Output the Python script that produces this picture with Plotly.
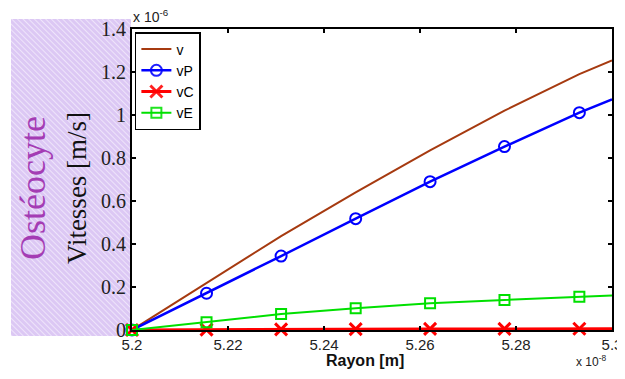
import base64
import plotly.graph_objects as go

# ---- data (velocities in units of 1e-6 m/s, radius in units of 1e-8 m) ----
rayon = [5.2, 5.21553, 5.23106, 5.2466, 5.2621, 5.2776, 5.2932, 5.3]
v  = [0.0, 0.22, 0.437, 0.64, 0.835, 1.02, 1.19, 1.254]
vP = [0.0, 0.171, 0.344, 0.518, 0.690, 0.853, 1.011, 1.073]
vC = [0.0, 0.002, 0.003, 0.004, 0.005, 0.005, 0.006, 0.006]
vE = [0.0, 0.036, 0.074, 0.101, 0.124, 0.140, 0.155, 0.160]
x_ticks = [5.2, 5.22, 5.24, 5.26, 5.28, 5.3]
x_ticklabels = ["5.2", "5.22", "5.24", "5.26", "5.28", "5.3"]
y_ticks = [0, 0.2, 0.4, 0.6, 0.8, 1.0, 1.2, 1.4]
y_ticklabels = ["0", "0.2", "0.4", "0.6", "0.8", "1", "1.2", "1.4"]

n = len(rayon)
mk_op = [1] * (n - 1) + [0]

fig = go.Figure()
fig.add_trace(go.Scatter(x=rayon, y=v, name="v", mode="lines",
                         line=dict(color="#A63A10", width=2)))
fig.add_trace(go.Scatter(x=rayon, y=vP, name="vP", mode="lines+markers",
                         line=dict(color="#0000FF", width=2.5),
                         marker=dict(symbol="circle-open", size=11, opacity=mk_op,
                                     line=dict(width=2, color="#0000FF"))))
fig.add_trace(go.Scatter(x=rayon, y=vC, name="vC", mode="lines+markers",
                         line=dict(color="#FF0000", width=3),
                         marker=dict(symbol="x-thin-open", size=12, opacity=mk_op,
                                     line=dict(width=3, color="#FF0000"))))
fig.add_trace(go.Scatter(x=rayon, y=vE, name="vE", mode="lines+markers",
                         line=dict(color="#00E000", width=2),
                         marker=dict(symbol="square-open", size=10, opacity=mk_op,
                                     line=dict(width=2, color="#00E000"))))
for tr in fig.data:
    tr.cliponaxis = False

# hatched lavender background panel
svg = ("<svg xmlns='http://www.w3.org/2000/svg' width='120' height='317'>"
       "<defs><pattern id='p' width='4' height='4' patternUnits='userSpaceOnUse' "
       "patternTransform='rotate(-45)'>"
       "<rect width='4' height='4' fill='#DCC8F4'/>"
       "<line x1='0.5' y1='0' x2='0.5' y2='4' stroke='#EEE4FA' stroke-width='1'/>"
       "</pattern></defs><rect width='120' height='317' fill='url(#p)'/></svg>")
src = "data:image/svg+xml;base64," + base64.b64encode(svg.encode()).decode()

# page body has an 8px default margin: work in window pixels and shift,
# keeping the page height within the window so no vertical scrollbar appears
OFF = 8
W, H = 625 - OFF, 379 - 2 * OFF
L, R, T, B = 132 - OFF, 612 - OFF, 29 - OFF, 330 - OFF
pw, ph = R - L, B - T

def px(xp):
    return (xp - OFF - L) / pw

def py(yp):
    return (B - (yp - OFF)) / ph

fig.add_layout_image(dict(source=src, xref="paper", yref="paper",
                          x=px(11), y=py(19), sizex=120 / pw, sizey=317 / ph,
                          xanchor="left", yanchor="top", sizing="stretch",
                          layer="below"))

axis_common = dict(showgrid=False, zeroline=False, showline=True, linecolor="black",
                   linewidth=2, mirror="ticks", ticks="inside", ticklen=4,
                   tickwidth=1.5, tickcolor="black")

fig.update_layout(
    width=W, height=H,
    margin=dict(l=L, r=W - R, t=T, b=H - B, autoexpand=False),
    paper_bgcolor="white", plot_bgcolor="white",
    showlegend=True,
    legend=dict(x=0.006, y=0.99, xanchor="left", yanchor="top",
                bgcolor="white", bordercolor="black", borderwidth=1.5,
                font=dict(family="Liberation Sans, Arial", size=14, color="black"),
                tracegroupgap=0, itemwidth=30),
    xaxis=dict(range=[5.2, 5.3], tickvals=x_ticks, ticktext=x_ticklabels,
               tickfont=dict(family="Liberation Sans, Arial", size=15, color="#222"),
               ticklabeloverflow="allow",
               **axis_common),
    yaxis=dict(range=[0, 1.4], tickvals=y_ticks, ticktext=y_ticklabels,
               tickfont=dict(family="Liberation Serif, Times New Roman", size=20, color="#222"),
               **axis_common),
)

fig.add_annotation(text="x 10<sup>-6</sup>", xref="paper", yref="paper",
                   x=px(131), y=py(27), xanchor="left", yanchor="bottom",
                   showarrow=False,
                   font=dict(family="Liberation Sans, Arial", size=14, color="#222"))
fig.add_annotation(text="x 10<sup>-8</sup>", xref="paper", yref="paper",
                   x=px(608), y=py(371), xanchor="right", yanchor="bottom",
                   showarrow=False,
                   font=dict(family="Liberation Sans, Arial", size=12, color="#222"))
fig.add_annotation(text="<b>Rayon [m]</b>", xref="paper", yref="paper",
                   x=px(365), y=py(361), xanchor="center", yanchor="middle",
                   showarrow=False,
                   font=dict(family="Liberation Sans, Arial", size=16, color="#111"))
fig.add_annotation(text="Vitesses [m/s]", xref="paper", yref="paper",
                   x=px(77), y=py(188), xanchor="center", yanchor="middle",
                   textangle=-90, showarrow=False,
                   font=dict(family="Liberation Serif, Times New Roman", size=27, color="#111"))
fig.add_annotation(text="Ostéocyte", xref="paper", yref="paper",
                   x=px(33), y=py(188), xanchor="center", yanchor="middle",
                   textangle=-90, showarrow=False,
                   font=dict(family="Liberation Serif, Times New Roman", size=36, color="#A43CB4"))

fig.write_html("out.html")
